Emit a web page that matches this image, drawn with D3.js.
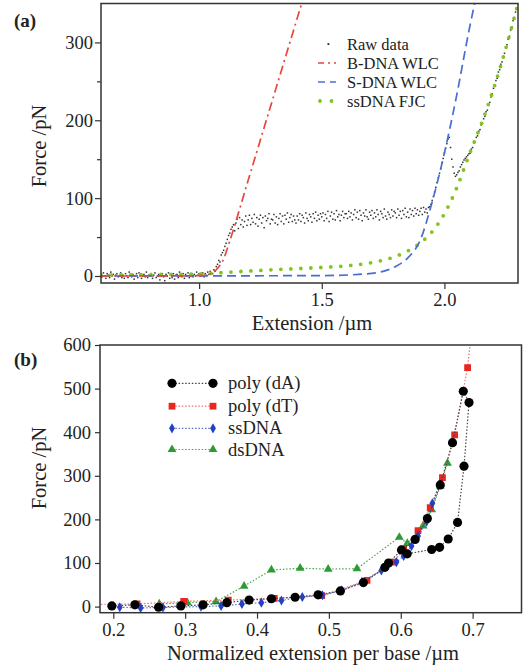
<!DOCTYPE html>
<html>
<head>
<meta charset="utf-8">
<script src="https://cdn.jsdelivr.net/npm/d3@7"></script>
<style>
body { margin: 0; background: #fff; }
svg text { font-family: "Liberation Serif", "Times New Roman", serif; fill: #222; }
</style>
</head>
<body>
<svg id="chart" width="523" height="665"></svg>
<script>
// ---- panel (a): force-extension of one molecule ----
// raw trace sampled every 5 nm starting at 0.6 um
var rawX0 = 0.6;
var rawStep = 0.005;
var rawForce = [
    2, -1, 4, 0, -3, 3, 1, -2, 5, 0, 2, -4, 1, 3, -1, 0, 4, -2, 1, -3,
    3, 0, -2, 5, 1, -1, 2, -4, 0, 3, -2, 4, 1, -3, 0, 2, -1, 5, -2, 1,
    0, 3, -3, 1, 4, -2, 0, 2, -5, 1, 3, -1, -6, 2, 0, 4, -3, 1, -2, 3,
    -4, 1, 2, -2, 5, 0, -1, 3, -3, 2, 0, 4, -2, 1, 3, -1, 2, 0, 5, 1,
    3, 0, 2, 4, -1, 3, 1, 5, 2, 6, 4, 3, 8, 6, 12, 15, 20, 18, 27, 30,
    33, 38, 42, 47, 52, 55, 60, 63, 66, 58, 68, 73, 61, 75, 66, 72, 63, 70, 77, 65,
    72, 78, 66, 74, 69, 79, 67, 75, 64, 73, 78, 68, 75, 62, 77, 71, 74, 80, 67, 73,
    72, 79, 68, 76, 66, 74, 80, 70, 77, 67, 78, 73, 81, 69, 75, 79, 70, 77, 72, 68,
    77, 72, 80, 70, 78, 75, 68, 81, 74, 71, 79, 76, 69, 80, 74, 82, 71, 78, 73, 80,
    76, 81, 71, 79, 74, 83, 70, 77, 82, 73, 80, 72, 84, 76, 79, 71, 78, 83, 75, 80,
    80, 74, 83, 76, 81, 72, 79, 85, 75, 82, 73, 84, 78, 71, 81, 77, 85, 76, 73, 82,
    78, 84, 74, 81, 76, 85, 79, 72, 83, 80, 75, 86, 77, 73, 82, 79, 75, 85, 77, 83,
    81, 75, 86, 78, 83, 74, 84, 79, 87, 76, 82, 75, 86, 79, 84, 77, 87, 80, 85, 78,
    83, 87, 79, 88, 82, 86, 81, 88, 89, 92, 97, 102, 108, 114, 120, 126, 132, 138, 145, 151,
    158, 164, 170, 176, 178, 165, 150, 140, 132, 128, 130, 133, 135, 140, 143, 146, 149, 151, 153, 155,
    157, 158, 163, 165, 171, 172, 178, 180, 186, 188, 194, 196, 202, 205, 211, 213, 220, 223, 230, 234,
    241, 244, 251, 254, 262, 265, 272, 275, 282, 286, 293, 297, 304, 308, 316, 320, 328, 332, 339, 343,
    350
];

var bdnaExt   = [0.6, 0.9, 1.0, 1.04, 1.07, 1.1, 1.126, 1.2, 1.3, 1.42];
var bdnaForce = [0, 0, 0.5, 2, 8, 22, 46, 123, 227, 352];

var sdnaExt   = [0.6, 1.5, 1.65, 1.75, 1.8, 1.85, 1.9, 1.95, 2.0, 2.05, 2.1, 2.13];
var sdnaForce = [0, 0.5, 2, 6, 12, 23, 45, 95, 158, 232, 315, 360];

var fjcExt   = [0.6, 1.0, 1.1, 1.3, 1.5, 1.6, 1.7, 1.8, 1.85, 1.9, 1.95, 2.0, 2.05, 2.1, 2.15, 2.2, 2.25, 2.3];
var fjcForce = [1.5, 2.5, 4.5, 8, 11, 13, 17, 25, 32, 42, 57, 80, 113, 155, 195, 240, 292, 350];

var aXTicks = [1.0, 1.5, 2.0];
var aYTicks = [0, 100, 200, 300];
var aYMinor = [50, 150, 250];
var aLegend = ["Raw data", "B-DNA WLC", "S-DNA WLC", "ssDNA FJC"];

// ---- panel (b): normalized curves ----
var polyAExt   = [0.198, 0.230, 0.263, 0.294, 0.325, 0.358, 0.389, 0.420, 0.453, 0.485, 0.516, 0.548, 0.578, 0.583, 0.601, 0.620, 0.637, 0.655, 0.672, 0.687,
                  0.695, 0.688, 0.679, 0.666, 0.654, 0.643, 0.609];
var polyAForce = [1.5, 4, -1.5, 1.5, 4, 9, 15, 18, 21.5, 27, 36, 55, 90, 100, 130, 154, 202, 279, 376, 494,
                  468, 322, 193, 155, 136, 131, 121];

var polyTExt   = [0.160, 0.233, 0.298, 0.360, 0.424, 0.490, 0.553, 0.590, 0.604, 0.624, 0.641, 0.658, 0.675, 0.693, 0.699];
var polyTForce = [5, 6, 12, 15, 19, 25, 60, 102, 132, 174, 227, 296, 394, 548, 640];

var ssExt   = [0.209, 0.238, 0.269, 0.322, 0.350, 0.379, 0.406, 0.434, 0.463, 0.491, 0.518, 0.546, 0.573, 0.594, 0.604, 0.615, 0.624, 0.636, 0.644, 0.654];
var ssForce = [-1.5, -3, -2, 0, 1.5, 6, 9, 14, 22, 26, 37, 57, 83, 102, 116, 139, 162, 195, 237, 281];

var dsExt   = [0.264, 0.303, 0.343, 0.382, 0.420, 0.460, 0.499, 0.539, 0.598, 0.609, 0.631, 0.643, 0.655, 0.665];
var dsForce = [6, 9, 11.5, 47, 84, 88, 86, 87, 159, 145, 185, 222, 277, 329];

var bXTicks = [0.2, 0.3, 0.4, 0.5, 0.6, 0.7];
var bYTicks = [0, 100, 200, 300, 400, 500, 600];
var bLegend = ["poly (dA)", "poly (dT)", "ssDNA", "dsDNA"];

var svg = d3.select("#chart");

function frame(g, w, h) {
    g.append("rect")
        .attr("x", 0).attr("y", 0)
        .attr("width", w).attr("height", h)
        .attr("fill", "none")
        .attr("stroke", "#333")
        .attr("stroke-width", 1.5);
}

function styleAxis(a) {
    a.select(".domain").remove();
    a.selectAll("line").attr("stroke", "#333").attr("stroke-width", 1.2);
    a.selectAll("text").attr("font-size", 18.5).attr("fill", "#222")
        .style("font-family", "'Liberation Serif', serif");
}

function drawPanelA() {
    var m = {left: 101, top: 3.5, right: 518, bottom: 283};
    var w = m.right - m.left, h = m.bottom - m.top;

    var x = d3.scaleLinear().domain([0.6, 2.3]).range([0, w]);
    var y = d3.scaleLinear().domain([-9, 350]).range([h, 0]);

    var g = svg.append("g").attr("transform", "translate(" + m.left + "," + m.top + ")");

    g.append("clipPath").attr("id", "clipA")
        .append("rect").attr("width", w).attr("height", h);

    var plot = g.append("g").attr("clip-path", "url(#clipA)");

    var line = d3.line()
        .x(function(d) { return x(d[0]); })
        .y(function(d) { return y(d[1]); })
        .curve(d3.curveMonotoneX);

    // raw data dots
    var raw = rawForce.map(function(f, i) { return [rawX0 + i * rawStep, f]; });
    plot.selectAll(".raw")
        .data(raw)
        .enter()
        .append("rect")
        .attr("class", "raw")
        .attr("x", function(d) { return x(d[0]) - 0.75; })
        .attr("y", function(d) { return y(d[1]) - 0.75; })
        .attr("width", 1.5)
        .attr("height", 1.5)
        .attr("fill", "#333");

    plot.append("path")
        .datum(d3.zip(fjcExt, fjcForce))
        .attr("d", line)
        .attr("fill", "none")
        .attr("stroke", "#80c41c")
        .attr("stroke-width", 3.8)
        .attr("stroke-linecap", "round")
        .attr("stroke-dasharray", "0,10");

    plot.append("path")
        .datum(d3.zip(sdnaExt, sdnaForce))
        .attr("d", line)
        .attr("fill", "none")
        .attr("stroke", "#4a6dd2")
        .attr("stroke-width", 1.7)
        .attr("stroke-dasharray", "9,5");

    plot.append("path")
        .datum(d3.zip(bdnaExt, bdnaForce))
        .attr("d", line)
        .attr("fill", "none")
        .attr("stroke", "#e8473a")
        .attr("stroke-width", 1.7)
        .attr("stroke-dasharray", "9,4,2,4");

    frame(g, w, h);

    // axes
    var xAxis = d3.axisBottom(x).tickValues(aXTicks).tickSize(6).tickFormat(d3.format(".1f"));
    var gx = g.append("g").attr("transform", "translate(0," + h + ")").call(xAxis);
    var gy = g.append("g").call(d3.axisLeft(y).tickValues(aYTicks).tickSize(6));
    var gm = g.append("g").call(d3.axisLeft(y).tickValues(aYMinor).tickSize(4).tickFormat(""));
    [gx, gy, gm].forEach(styleAxis);
    gx.selectAll("text").attr("dy", "0.76em");
    gy.selectAll("text").attr("x", -8);

    svg.append("text")
        .attr("x", 312).attr("y", 330)
        .attr("text-anchor", "middle")
        .attr("font-size", 20.5)
        .text("Extension /\u00b5m");

    svg.append("text")
        .attr("transform", "translate(46,146) rotate(-90)")
        .attr("text-anchor", "middle")
        .attr("font-size", 20.5)
        .text("Force /pN");

    svg.append("text")
        .attr("x", 14).attr("y", 27)
        .attr("font-size", 19)
        .attr("font-weight", "bold")
        .text("(a)");

    // legend
    var lg = svg.append("g");
    var rowY = [44, 63, 82, 101];
    lg.append("rect").attr("x", 327.5).attr("y", rowY[0] - 0.8).attr("width", 1.8).attr("height", 1.8).attr("fill", "#222");
    lg.append("line").attr("x1", 318).attr("x2", 336).attr("y1", rowY[1]).attr("y2", rowY[1])
        .attr("stroke", "#e8473a").attr("stroke-width", 1.7).attr("stroke-dasharray", "6,4,2,4");
    lg.append("line").attr("x1", 318).attr("x2", 336).attr("y1", rowY[2]).attr("y2", rowY[2])
        .attr("stroke", "#4a6dd2").attr("stroke-width", 1.7).attr("stroke-dasharray", "7,5");
    lg.append("line").attr("x1", 320).attr("x2", 333).attr("y1", rowY[3]).attr("y2", rowY[3])
        .attr("stroke", "#80c41c").attr("stroke-width", 3.8).attr("stroke-linecap", "round").attr("stroke-dasharray", "0,11.5");
    lg.selectAll(".lgText")
        .data(aLegend)
        .enter()
        .append("text")
        .attr("x", 347)
        .attr("y", function(d, i) { return rowY[i] + 5.5; })
        .attr("font-size", 16.5)
        .text(function(d) { return d; });
}

function drawPanelB() {
    var m = {left: 100, top: 345, right: 521.5, bottom: 612.7};
    var w = m.right - m.left, h = m.bottom - m.top;

    var x = d3.scaleLinear().domain([0.1815, 0.768]).range([0, w]);
    var y = d3.scaleLinear().domain([-14, 600]).range([h, 0]);

    var g = svg.append("g").attr("transform", "translate(" + m.left + "," + m.top + ")");

    g.append("clipPath").attr("id", "clipB")
        .append("rect").attr("width", w).attr("height", h);

    var plot = g.append("g").attr("clip-path", "url(#clipB)");

    var line = d3.line()
        .x(function(d) { return x(d[0]); })
        .y(function(d) { return y(d[1]); });

    var series = [
        {ext: dsExt, force: dsForce, line: "#4aa64a", fill: "#2e9a35", symbol: d3.symbolTriangle, size: 34},
        {ext: polyTExt, force: polyTForce, line: "#f07070", fill: "#e8271f", symbol: d3.symbolSquare, size: 46},
        {ext: ssExt, force: ssForce, line: "#5a6fd0", fill: "#2440c8", symbol: d3.symbolDiamond, size: 30},
        {ext: polyAExt, force: polyAForce, line: "#444", fill: "#000", symbol: d3.symbolCircle, size: 66}
    ];

    series.forEach(function(s) {
        var pts = d3.zip(s.ext, s.force);
        plot.append("path")
            .datum(pts)
            .attr("d", line)
            .attr("fill", "none")
            .attr("stroke", s.line)
            .attr("stroke-width", 1.2)
            .attr("stroke-dasharray", "1.5,1.8");
        plot.selectAll(null)
            .data(pts)
            .enter()
            .append("path")
            .attr("transform", function(d) { return "translate(" + x(d[0]) + "," + y(d[1]) + ")"; })
            .attr("d", d3.symbol().type(s.symbol).size(s.size))
            .attr("fill", s.fill);
    });

    frame(g, w, h);

    var xAxis = d3.axisBottom(x).tickValues(bXTicks).tickSize(6).tickFormat(d3.format(".1f"));
    var gx = g.append("g").attr("transform", "translate(0," + h + ")").call(xAxis);
    var gy = g.append("g").call(d3.axisLeft(y).tickValues(bYTicks).tickSize(5));
    [gx, gy].forEach(styleAxis);
    gx.selectAll("text").attr("dy", "0.76em");
    gy.selectAll("text").attr("x", -9);

    svg.append("text")
        .attr("x", 313).attr("y", 660)
        .attr("text-anchor", "middle")
        .attr("font-size", 20.5)
        .text("Normalized extension per base /\u00b5m");

    svg.append("text")
        .attr("transform", "translate(46,468) rotate(-90)")
        .attr("text-anchor", "middle")
        .attr("font-size", 20.5)
        .text("Force /pN");

    svg.append("text")
        .attr("x", 14).attr("y", 366)
        .attr("font-size", 19)
        .attr("font-weight", "bold")
        .text("(b)");

    // legend, same order as in the figure
    var legendSeries = [series[3], series[1], series[2], series[0]];
    var rowY = [383.3, 406.2, 428.3, 449.5];
    var lg = svg.append("g");
    legendSeries.forEach(function(s, i) {
        lg.append("line")
            .attr("x1", 172).attr("x2", 213)
            .attr("y1", rowY[i]).attr("y2", rowY[i])
            .attr("stroke", s.line)
            .attr("stroke-width", 1.2)
            .attr("stroke-dasharray", "1.5,1.8");
        [172, 213].forEach(function(px) {
            lg.append("path")
                .attr("transform", "translate(" + px + "," + rowY[i] + ")")
                .attr("d", d3.symbol().type(s.symbol).size(s.size))
                .attr("fill", s.fill);
        });
        lg.append("text")
            .attr("x", 228)
            .attr("y", rowY[i] + 6)
            .attr("font-size", 18.5)
            .text(bLegend[i]);
    });
}

drawPanelA();
drawPanelB();
</script>
</body>
</html>
